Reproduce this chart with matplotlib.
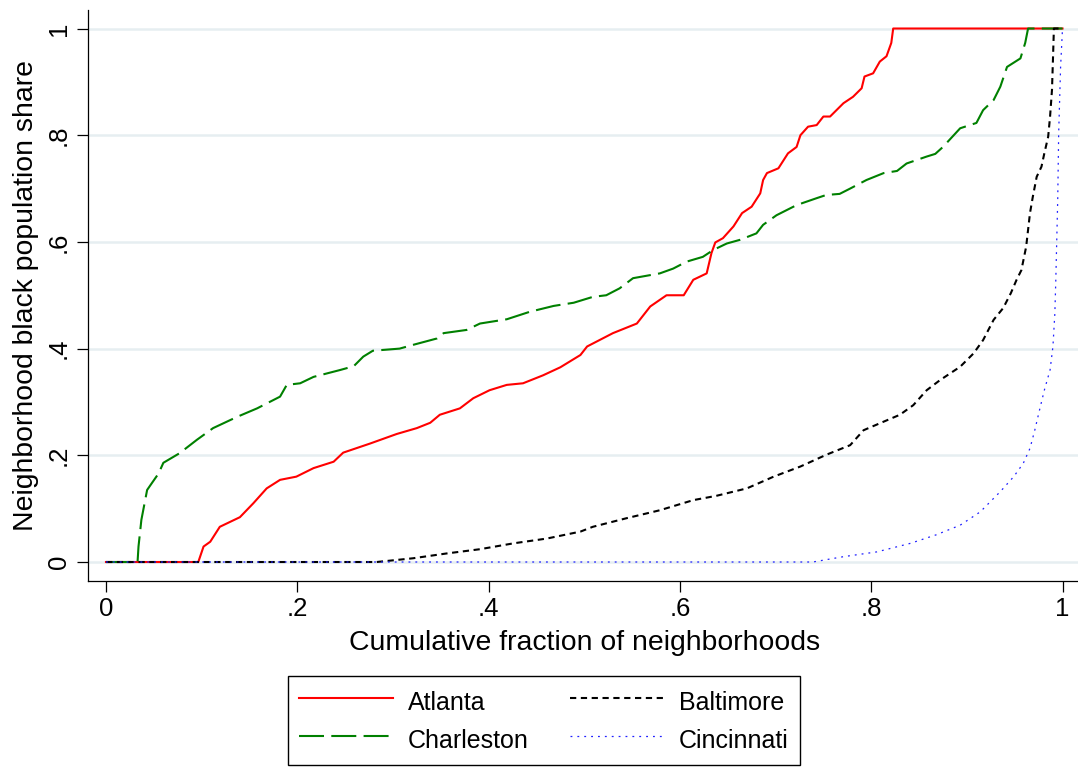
import matplotlib
matplotlib.use("Agg")
import matplotlib.pyplot as plt

plt.rcParams['font.family'] = ['Liberation Sans', 'DejaVu Sans']

# ---- data ----
atlanta_x = [0.0, 0.0965, 0.102, 0.109, 0.119, 0.140, 0.154, 0.168, 0.182, 0.199, 0.217,
             0.238, 0.248, 0.276, 0.304, 0.325, 0.339, 0.349, 0.370, 0.384, 0.401, 0.419,
             0.436, 0.457, 0.475, 0.496, 0.503, 0.530, 0.555, 0.569, 0.586, 0.604, 0.614,
             0.628, 0.633, 0.637, 0.645, 0.656, 0.665, 0.675, 0.684, 0.687, 0.691, 0.703,
             0.713, 0.722, 0.726, 0.734, 0.743, 0.750, 0.757, 0.771, 0.781, 0.790, 0.793,
             0.802, 0.809, 0.816, 0.821, 0.823, 1.0]
atlanta_y = [0.0, 0.0, 0.029, 0.038, 0.066, 0.084, 0.110, 0.138, 0.154, 0.160, 0.176,
             0.188, 0.205, 0.222, 0.240, 0.251, 0.261, 0.276, 0.288, 0.307, 0.322, 0.332,
             0.335, 0.350, 0.365, 0.388, 0.404, 0.429, 0.447, 0.479, 0.500, 0.500, 0.529,
             0.541, 0.579, 0.599, 0.607, 0.629, 0.654, 0.666, 0.691, 0.716, 0.729, 0.738,
             0.766, 0.778, 0.800, 0.816, 0.819, 0.835, 0.835, 0.860, 0.872, 0.888, 0.910,
             0.916, 0.938, 0.948, 0.973, 1.0, 1.0]

charleston_x = [0.0, 0.033, 0.034, 0.037, 0.043, 0.048, 0.055, 0.060, 0.077, 0.095, 0.112,
                0.137, 0.158, 0.182, 0.189, 0.203, 0.217, 0.245, 0.259, 0.269, 0.279, 0.307,
                0.321, 0.346, 0.353, 0.377, 0.391, 0.419, 0.443, 0.468, 0.489, 0.509, 0.523,
                0.537, 0.551, 0.579, 0.593, 0.607, 0.624, 0.635, 0.649, 0.663, 0.680, 0.687,
                0.701, 0.722, 0.743, 0.753, 0.767, 0.778, 0.795, 0.813, 0.827, 0.837, 0.858,
                0.867, 0.875, 0.893, 0.910, 0.917, 0.928, 0.935, 0.942, 0.956, 0.961, 0.964,
                1.0]
charleston_y = [0.0, 0.0, 0.029, 0.079, 0.135, 0.148, 0.166, 0.186, 0.204, 0.229, 0.251,
                0.272, 0.288, 0.310, 0.332, 0.335, 0.347, 0.360, 0.367, 0.385, 0.396, 0.400,
                0.407, 0.419, 0.429, 0.435, 0.447, 0.455, 0.469, 0.480, 0.486, 0.497, 0.500,
                0.513, 0.532, 0.541, 0.550, 0.563, 0.572, 0.585, 0.597, 0.604, 0.616, 0.632,
                0.650, 0.669, 0.682, 0.688, 0.690, 0.700, 0.716, 0.729, 0.733, 0.747, 0.760,
                0.765, 0.778, 0.813, 0.823, 0.847, 0.866, 0.891, 0.928, 0.944, 0.973, 1.0,
                1.0]

baltimore_x = [0.0, 0.283, 0.321, 0.356, 0.391, 0.426, 0.461, 0.496, 0.509, 0.544, 0.579,
               0.614, 0.638, 0.670, 0.698, 0.726, 0.753, 0.778, 0.792, 0.809, 0.830, 0.844,
               0.858, 0.872, 0.893, 0.907, 0.917, 0.928, 0.938, 0.946, 0.952, 0.957, 0.962,
               0.966, 0.969, 0.973, 0.978, 0.981, 0.985, 0.987, 0.989, 0.990, 0.991, 1.0]
baltimore_y = [0.0, 0.0, 0.007, 0.016, 0.024, 0.035, 0.044, 0.057, 0.066, 0.082, 0.097,
               0.116, 0.124, 0.138, 0.160, 0.179, 0.201, 0.219, 0.247, 0.260, 0.276, 0.294,
               0.322, 0.341, 0.366, 0.391, 0.416, 0.454, 0.476, 0.504, 0.529, 0.547, 0.591,
               0.654, 0.685, 0.722, 0.741, 0.766, 0.797, 0.835, 0.885, 0.941, 1.0, 1.0]

cincinnati_x = [0.0, 0.739, 0.771, 0.806, 0.841, 0.868, 0.893, 0.914, 0.935, 0.949, 0.959,
                0.966, 0.971, 0.976, 0.981, 0.987, 0.990, 0.992, 0.993, 0.995, 0.996, 0.998,
                1.0]
cincinnati_y = [0.0, 0.0, 0.010, 0.019, 0.035, 0.051, 0.069, 0.094, 0.132, 0.160, 0.185,
                0.213, 0.247, 0.285, 0.322, 0.360, 0.404, 0.466, 0.529, 0.679, 0.804, 0.928,
                1.0]

tick_vals = [0, 0.2, 0.4, 0.6, 0.8, 1.0]
tick_labels = ["0", ".2", ".4", ".6", ".8", "1"]

FS_TICK = 18.5
FS_TITLE = 20.4
FS_LEG = 18.0

fig = plt.figure(figsize=(10.78, 7.68), dpi=100)
ax = fig.add_axes([88/1078, 187/768, 990/1078, 571/768])

for v in tick_vals:
    ax.axhline(v, color='#e6eef1', lw=1.8, zorder=0)

ax.plot(atlanta_x, atlanta_y, color='#ff0000', lw=1.5, label='Atlanta', zorder=3)
ax.plot(charleston_x, charleston_y, color='#008000', lw=1.5, dashes=(12, 3.5),
        label='Charleston', zorder=3)
ax.plot(baltimore_x, baltimore_y, color='#000000', lw=1.5, dashes=(3, 2.2),
        label='Baltimore', zorder=3)
ax.plot(cincinnati_x, cincinnati_y, color='#2020ff', lw=0.9, dashes=(1.5, 4),
        label='Cincinnati', zorder=3)

ax.set_xlim(-0.0188, 1.0162)
ax.set_ylim(-0.0356, 1.0347)

ax.set_xticks(tick_vals)
ax.set_xticklabels(tick_labels)
ax.set_yticks(tick_vals)
ax.set_yticklabels(tick_labels)

ax.spines['top'].set_visible(False)
ax.spines['right'].set_visible(False)
for s in ('left', 'bottom'):
    ax.spines[s].set_linewidth(0.9)
ax.tick_params(axis='both', direction='out', length=8, width=0.9,
               labelsize=FS_TICK, colors='black')
ax.tick_params(axis='x', pad=3.6)
ax.tick_params(axis='y', pad=4.5, labelrotation=90)
for lab in ax.get_yticklabels():
    lab.set_va('center')

ax.set_xlabel('Cumulative fraction of neighborhoods', fontsize=FS_TITLE)
ax.xaxis.set_label_coords(0.502, -0.085)
ax.set_ylabel('Neighborhood black population share', fontsize=FS_TITLE)
ax.yaxis.set_label_coords(-0.0495, 0.5)

handles, labels = ax.get_legend_handles_labels()
leg = fig.legend(handles, labels, ncol=2, loc='center',
                 bbox_to_anchor=(544/1078, 1 - 720.5/768),
                 fontsize=FS_LEG, frameon=True, fancybox=False, framealpha=1,
                 edgecolor='black', handlelength=3.76, handletextpad=0.59,
                 handleheight=1.42, columnspacing=1.66, labelspacing=0.34,
                 borderpad=0.45, borderaxespad=0)
leg.get_frame().set_linewidth(1.0)

fig.savefig('out.png', dpi=100)
